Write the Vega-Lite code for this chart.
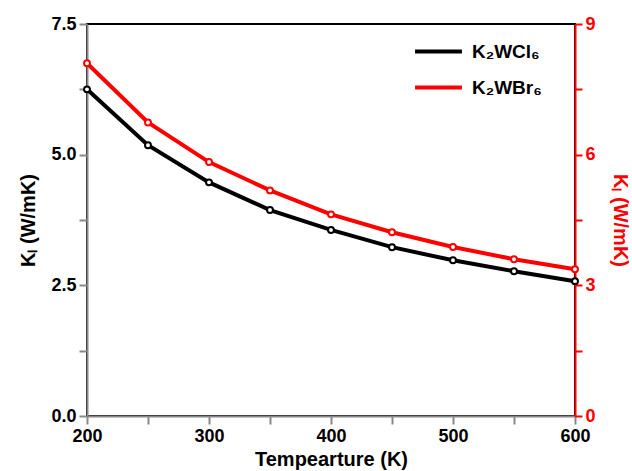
{
  "$schema": "https://vega.github.io/schema/vega-lite/v6.json",
  "width": 488,
  "height": 392,
  "autosize": "none",
  "padding": {"left": 87, "top": 24, "right": 57, "bottom": 55},
  "background": "white",
  "config": {
    "font": "Liberation Sans",
    "view": {"stroke": "black", "strokeWidth": 2},
    "axis": {"labelFont": "Liberation Sans", "titleFont": "Liberation Sans", "labelFontWeight": "bold", "titleFontWeight": "bold", "labelFontSize": 18, "titleFontSize": 20, "grid": false, "domainWidth": 2, "tickWidth": 2, "tickSize": 8, "labelPadding": 3, "labelColor": "black", "titleColor": "black"}
  },
  "data": {
    "values": [
      {"T": 200, "series": "K₂WCl₆", "k": 6.25},
      {"T": 250, "series": "K₂WCl₆", "k": 5.18},
      {"T": 300, "series": "K₂WCl₆", "k": 4.47},
      {"T": 350, "series": "K₂WCl₆", "k": 3.94},
      {"T": 400, "series": "K₂WCl₆", "k": 3.56},
      {"T": 450, "series": "K₂WCl₆", "k": 3.23},
      {"T": 500, "series": "K₂WCl₆", "k": 2.98},
      {"T": 550, "series": "K₂WCl₆", "k": 2.77},
      {"T": 600, "series": "K₂WCl₆", "k": 2.58},
      {"T": 200, "series": "K₂WBr₆", "k": 8.1},
      {"T": 250, "series": "K₂WBr₆", "k": 6.74},
      {"T": 300, "series": "K₂WBr₆", "k": 5.83},
      {"T": 350, "series": "K₂WBr₆", "k": 5.18},
      {"T": 400, "series": "K₂WBr₆", "k": 4.63},
      {"T": 450, "series": "K₂WBr₆", "k": 4.22},
      {"T": 500, "series": "K₂WBr₆", "k": 3.88},
      {"T": 550, "series": "K₂WBr₆", "k": 3.6},
      {"T": 600, "series": "K₂WBr₆", "k": 3.37}
    ]
  },
  "encoding": {
    "x": {
      "field": "T", "type": "quantitative",
      "scale": {"domain": [200, 600], "nice": false, "zero": false},
      "axis": {"title": "Tempearture (K)", "values": [200, 250, 300, 350, 400, 450, 500, 550, 600], "labelExpr": "datum.value % 100 === 0 ? datum.label : ''", "format": "d", "titlePadding": 4, "labelFlush": false}
    }
  },
  "layer": [
    {
      "transform": [{"filter": "datum.series === 'K₂WCl₆'"}],
      "encoding": {
        "y": {
          "field": "k", "type": "quantitative",
          "scale": {"domain": [0, 7.5], "nice": false},
          "axis": {"orient": "left", "title": "Kₗ (W/mK)", "values": [0, 1.25, 2.5, 3.75, 5, 6.25, 7.5], "labelExpr": "datum.value % 2.5 === 0 ? format(datum.value, '.1f') : ''", "titlePadding": 12}
        }
      },
      "layer": [
        {
          "mark": {"type": "line", "strokeWidth": 4},
          "encoding": {
            "color": {"field": "series", "type": "nominal",
              "scale": {"domain": ["K₂WCl₆", "K₂WBr₆"], "range": ["black", "red"]},
              "legend": {"title": null, "orient": "none", "legendX": 326, "legendY": 2, "symbolType": "stroke", "symbolStrokeWidth": 4, "symbolSize": 2200, "labelFontSize": 19, "labelFontWeight": "bold", "labelFont": "Liberation Sans", "labelColor": "black", "rowPadding": -14, "labelOffset": 8}
            }
          }
        },
        {"mark": {"type": "point", "filled": false, "stroke": "black", "fill": "white", "fillOpacity": 1, "strokeWidth": 2, "size": 35, "opacity": 1}}
      ]
    },
    {
      "transform": [{"filter": "datum.series === 'K₂WBr₆'"}],
      "encoding": {
        "y": {
          "field": "k", "type": "quantitative",
          "scale": {"domain": [0, 9], "nice": false},
          "axis": {"orient": "right", "title": "Kₗ (W/mK)", "values": [0, 1.5, 3, 4.5, 6, 7.5, 9], "labelExpr": "datum.value % 3 === 0 ? format(datum.value, 'd') : ''", "domainColor": "red", "tickColor": "red", "labelColor": "red", "titleColor": "red", "tickSize": 7, "titlePadding": 14}
        }
      },
      "layer": [
        {
          "mark": {"type": "line", "strokeWidth": 4},
          "encoding": {
            "color": {"field": "series", "type": "nominal",
              "scale": {"domain": ["K₂WCl₆", "K₂WBr₆"], "range": ["black", "red"]}}
          }
        },
        {"mark": {"type": "point", "filled": false, "stroke": "red", "fill": "white", "fillOpacity": 1, "strokeWidth": 2, "size": 35, "opacity": 1}}
      ]
    }
  ],
  "resolve": {"scale": {"y": "independent"}}
}
